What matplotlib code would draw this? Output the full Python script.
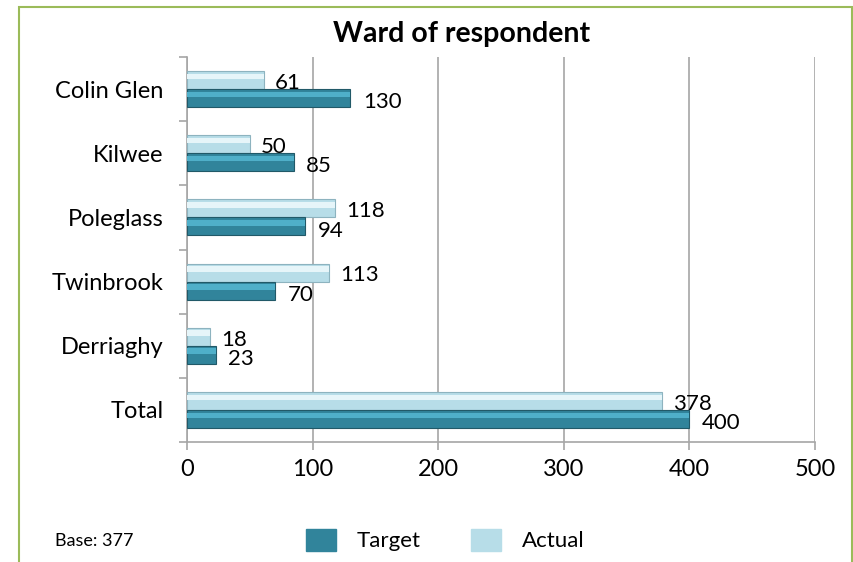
import matplotlib.pyplot as plt
from matplotlib.patches import Rectangle
import numpy as np

plt.rcParams['font.family'] = ['Lato', 'DejaVu Sans']

wards = ['Colin Glen', 'Kilwee', 'Poleglass', 'Twinbrook', 'Derriaghy', 'Total']
target = [130, 85, 94, 70, 23, 400]
actual = [61, 50, 118, 113, 18, 378]

TARGET_COL = '#31849B'
TARGET_HI = '#4FAFC9'
TARGET_EDGE = '#215968'
ACTUAL_COL = '#B7DDE8'
ACTUAL_HI = '#E6F5F9'
ACTUAL_EDGE = '#8DB3BF'
GRID = '#A6A6A6'


def bevel_bars(ax, y, vals, h, base, hi, edge):
    ax.barh(y, vals, height=h, color=base, edgecolor=edge, linewidth=0.8, zorder=3)
    # lighter upper strip to fake the bevelled look
    ax.barh(y - h * 0.2, vals, height=h * 0.3, color=hi, linewidth=0, zorder=4)


fig = plt.figure(figsize=(8.54, 5.62), dpi=100)
fig.patches.append(Rectangle((19 / 854, -0.1), (852 - 19) / 854, 1.1 - 7 / 562,
                             transform=fig.transFigure, fill=False,
                             edgecolor='#9BBB59', linewidth=1.5))
ax = fig.add_axes([187 / 854, 1 - 442 / 562, (815 - 187) / 854, (442 - 57) / 562])

y = np.arange(len(wards))
h = 0.28
bevel_bars(ax, y - h / 2, actual, h, ACTUAL_COL, ACTUAL_HI, ACTUAL_EDGE)
bevel_bars(ax, y + h / 2, target, h, TARGET_COL, TARGET_HI, TARGET_EDGE)

for i in range(len(wards)):
    ax.annotate(f'{actual[i]}', (actual[i], y[i] - h / 2), xytext=(8, -2),
                textcoords='offset points', ha='left', va='center', fontsize=16, zorder=5)
    ax.annotate(f'{target[i]}', (target[i], y[i] + h / 2), xytext=(9, -3),
                textcoords='offset points', ha='left', va='center', fontsize=16, zorder=5)

ax.set_xlim(0, 500)
ax.set_ylim(len(wards) - 0.5, -0.5)
ax.set_xticks(np.arange(0, 501, 100))
ax.set_yticks(y)
ax.set_yticklabels(wards, fontsize=17)
ax.set_yticks(np.arange(len(wards) + 1) - 0.5, minor=True)
ax.tick_params(axis='y', which='major', length=0, pad=17)
ax.tick_params(axis='y', which='minor', length=6, color=GRID, width=1.2)
ax.tick_params(axis='x', length=6, color=GRID, width=1.2, labelsize=17, pad=6)
ax.grid(axis='x', color=GRID, linewidth=1.2, zorder=0)
for s in ['top', 'right']:
    ax.spines[s].set_visible(False)
for s in ['left', 'bottom']:
    ax.spines[s].set_color(GRID)
    ax.spines[s].set_linewidth(1.2)

fig.text(462 / 854, 1 - 34 / 562, 'Ward of respondent', ha='center', va='center',
         fontsize=20.5, fontweight='bold')
fig.text(55 / 854, 1 - 541 / 562, 'Base: 377', ha='left', va='center', fontsize=13)

handles = [Rectangle((0, 0), 1, 1, color=TARGET_COL), Rectangle((0, 0), 1, 1, color=ACTUAL_COL)]
fig.legend(handles, ['Target', 'Actual'], loc='center', bbox_to_anchor=(445 / 854, 1 - 540 / 562),
           ncol=2, frameon=False, fontsize=16, handlelength=1.36, handleheight=1.15,
           handletextpad=0.9, columnspacing=2.3)

fig.savefig('out.png', dpi=100)
